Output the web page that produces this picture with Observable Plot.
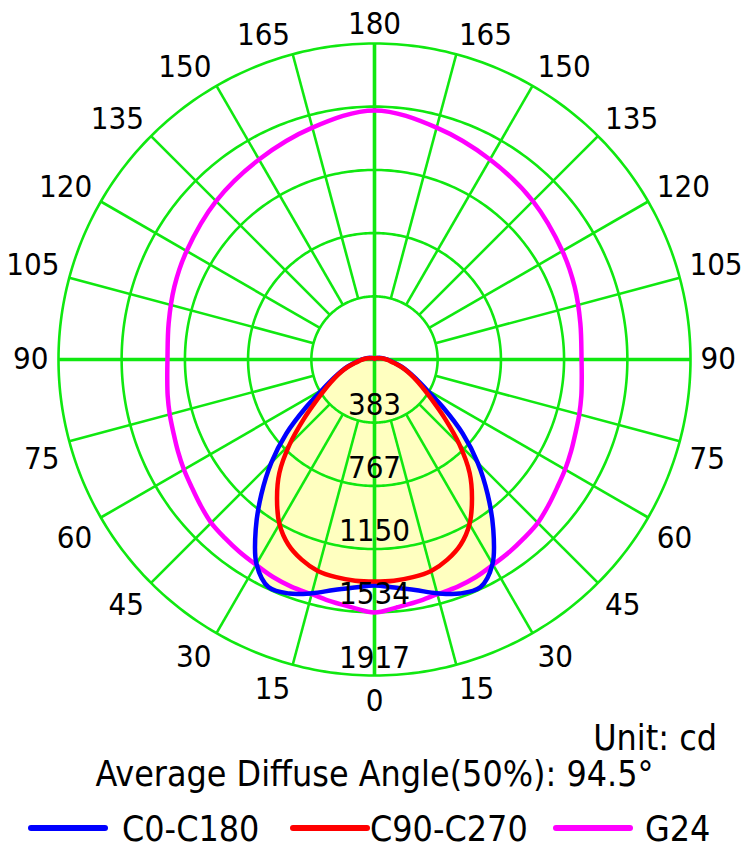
<!DOCTYPE html>
<html>
<head>
<meta charset="utf-8">
<script src="https://cdn.jsdelivr.net/npm/d3@7"></script>
<script src="https://cdn.jsdelivr.net/npm/@observablehq/plot@0.6"></script>
<style>
  body { margin: 0; background: #ffffff; }
  #wrap { position: relative; width: 749px; height: 848px; overflow: hidden;
          font-family: "DejaVu Sans Condensed", "DejaVu Sans", sans-serif; font-stretch: condensed; color: #000; }
  #chart { position: absolute; left: 0; top: 0; }
  .txt { position: absolute; font-size: 35.5px; line-height: 35px; white-space: nowrap; }
  .sw { position: absolute; height: 6px; border-radius: 3px; }
</style>
</head>
<body>
<div id="wrap"><div id="chart"></div></div>
<script>
// ---------------- data ----------------
// polar angle (deg from nadir, 0 = down, 180 = up); curves are symmetric left/right
const angles   = [0, 5, 10, 15, 20, 25, 30, 35, 40, 45, 50, 55, 60, 65, 70, 75, 80, 85, 90, 100, 110, 120, 135, 150, 165, 180];
// luminous intensity, cd
const c0c180   = [1371, 1389, 1420, 1468, 1511, 1523, 1432, 1256, 1068, 886, 698, 510, 364, 279, 218, 170, 127, 97, 79, 49, 30, 18, 12, 6, 4, 3];
const c90c270  = [1347, 1347, 1341, 1328, 1292, 1238, 1153, 1031, 898, 728, 558, 425, 334, 267, 212, 164, 121, 91, 73, 42, 24, 18, 12, 6, 4, 3];
const g24      = [1535, 1511, 1492, 1474, 1468, 1456, 1438, 1426, 1413, 1401, 1377, 1353, 1335, 1316, 1298, 1286, 1274, 1262, 1256, 1268, 1292, 1316, 1359, 1401, 1456, 1511];

const seriesNames  = ["C0-C180", "C90-C270", "G24"];
const seriesColors = ["#0000ff", "#ff0000", "#ff00ff"];

const ringValues = [383, 767, 1150, 1534, 1917];
const ringLabels = ["383", "767", "1150", "1534", "1917"];
const angleTicks = [0, 15, 30, 45, 60, 75, 90, 105, 120, 135, 150, 165, 180];

const unitText  = "Unit: cd";
const angleText = "Average Diffuse Angle(50%): 94.5°";

// ---------------- geometry ----------------
const W = 749, H = 720, cx = 374, cy = 359, Rpx = 316;
const maxV = ringValues[ringValues.length - 1];
const k = maxV / Rpx;            // cd per pixel
const FONT = '"DejaVu Sans Condensed", "DejaVu Sans", sans-serif';
const GREEN = "#10e810";
const FILL = "#ffffc0";
const rad = d => d * Math.PI / 180;
const pt = (theta, v) => ({x: v * Math.sin(rad(theta)), y: -v * Math.cos(rad(theta))});

function loop(values) {
  const right = angles.map((a, i) => pt(a, values[i]));
  const left = [];
  for (let i = angles.length - 2; i >= 1; i--) left.push(pt(-angles[i], values[i]));
  return right.concat(left);
}
const seriesData = [c0c180, c90c270, g24].map(loop);

// grid rings
const ringPts = [];
ringValues.forEach(v => { for (let a = 0; a < 360; a += 1) ringPts.push({...pt(a, v), ring: v}); });

// spokes
const spokes = [];
for (let a = 0; a < 360; a += 15) {
  if (a % 90 === 0) continue;
  const p1 = pt(a, ringValues[0]), p2 = pt(a, maxV);
  spokes.push({x1: p1.x, y1: p1.y, x2: p2.x, y2: p2.y});
}
const axesLines = [
  {x1: 0, y1: -maxV, x2: 0, y2: maxV},
  {x1: -maxV, y1: 0, x2: maxV, y2: 0}
];

// angle labels
const labR = maxV + 10 * k;
const labels = [];
angleTicks.forEach(a => {
  const sides = (a === 0 || a === 180) ? [1] : [1, -1];
  sides.forEach(s => {
    const p = pt(s * a, labR);
    let grp;
    if (a === 180) grp = "top";
    else if (a === 0) grp = "bottom";
    else if (a === 90) grp = s > 0 ? "rm" : "lm";
    else if (a > 90) grp = s > 0 ? "ru" : "lu";
    else grp = s > 0 ? "rl" : "ll";
    labels.push({x: p.x, y: p.y, text: String(a), grp});
  });
});
const groupStyle = {
  top:    {textAnchor: "middle", lineAnchor: "bottom", dy: 0},
  bottom: {textAnchor: "middle", lineAnchor: "top", dy: 3},
  rm:     {textAnchor: "start", lineAnchor: "middle", dy: 0},
  lm:     {textAnchor: "end", lineAnchor: "middle", dy: 0},
  ru:     {textAnchor: "start", lineAnchor: "bottom", dy: 0},
  lu:     {textAnchor: "end", lineAnchor: "bottom", dy: 0},
  rl:     {textAnchor: "start", lineAnchor: "top", dy: 3},
  ll:     {textAnchor: "end", lineAnchor: "top", dy: 3}
};
const labelMarks = Object.keys(groupStyle).map(g =>
  Plot.text(labels.filter(d => d.grp === g), {
    x: "x", y: "y", text: "text", fontSize: 31, fill: "#000", fontFamily: FONT,
    ...groupStyle[g]
  })
);

const ringLabelData = ringValues.map((v, i) => ({x: 0, y: -v + 8 * k, text: ringLabels[i]}));

const chart = Plot.plot({
  width: W, height: H, margin: 0,
  x: {domain: [-cx * k, (W - cx) * k], axis: null},
  y: {domain: [-(H - cy) * k, cy * k], axis: null},
  style: {fontFamily: FONT, background: "transparent", overflow: "visible"},
  marks: [
    Plot.line(seriesData[0], {x: "x", y: "y", fill: FILL, stroke: "none", curve: "catmull-rom-closed"}),
    Plot.line(ringPts, {x: "x", y: "y", z: "ring", stroke: GREEN, strokeWidth: 2.6, curve: "linear-closed"}),
    Plot.link(spokes, {x1: "x1", y1: "y1", x2: "x2", y2: "y2", stroke: GREEN, strokeWidth: 2.6}),
    Plot.link(axesLines, {x1: "x1", y1: "y1", x2: "x2", y2: "y2", stroke: GREEN, strokeWidth: 3.6}),
    Plot.line(seriesData[2], {x: "x", y: "y", stroke: seriesColors[2], strokeWidth: 4.5, curve: "catmull-rom-closed", strokeLinejoin: "round"}),
    Plot.line(seriesData[0], {x: "x", y: "y", stroke: seriesColors[0], strokeWidth: 4.5, curve: "catmull-rom-closed", strokeLinejoin: "round"}),
    Plot.line(seriesData[1], {x: "x", y: "y", stroke: seriesColors[1], strokeWidth: 4.5, curve: "catmull-rom-closed", strokeLinejoin: "round"}),
    Plot.text(ringLabelData, {x: "x", y: "y", text: "text", fontSize: 31, fill: "#000", lineAnchor: "bottom", textAnchor: "middle", fontFamily: FONT}),
    ...labelMarks
  ]
});
document.getElementById("chart").appendChild(chart);

// ---------------- captions & legend (below the SVG) ----------------
const wrap = document.getElementById("wrap");
function addText(str, css) {
  const d = document.createElement("div");
  d.className = "txt";
  d.textContent = str;
  Object.assign(d.style, css);
  wrap.appendChild(d);
  return d;
}
addText(unitText, {right: "32px", top: "720px"});
addText(angleText, {left: "0px", width: "749px", textAlign: "center", top: "756px"});

const swatchLeft = [28, 290, 553];
const textLeft = [122, 370, 645];
seriesNames.forEach((name, i) => {
  const sw = document.createElement("div");
  sw.className = "sw";
  Object.assign(sw.style, {left: swatchLeft[i] + "px", width: "80px", top: "825px", background: seriesColors[i]});
  wrap.appendChild(sw);
  addText(name, {left: textLeft[i] + "px", top: "811px"});
});
</script>
</body>
</html>
